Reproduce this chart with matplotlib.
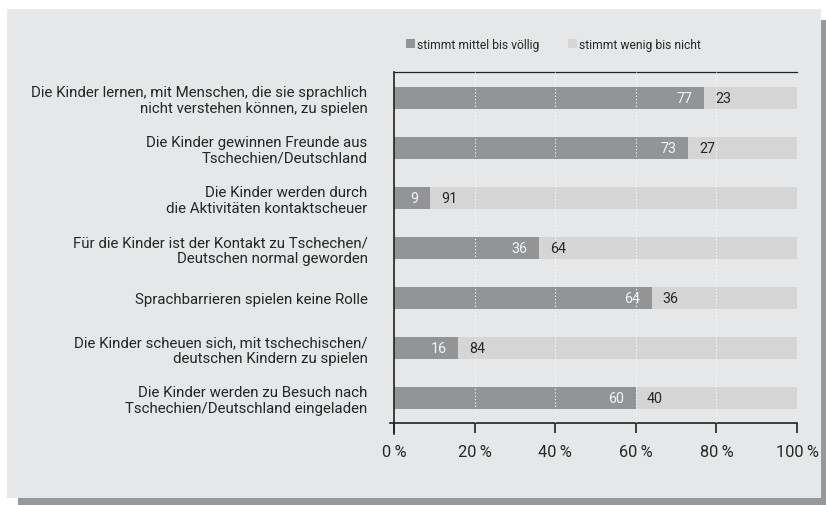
import matplotlib
matplotlib.use("Agg")
import matplotlib.pyplot as plt
from matplotlib.patches import Rectangle

# DATA
categories = [
    "Die Kinder lernen, mit Menschen, die sie sprachlich\nnicht verstehen können, zu spielen",
    "Die Kinder gewinnen Freunde aus\nTschechien/Deutschland",
    "Die Kinder werden durch\ndie Aktivitäten kontaktscheuer",
    "Für die Kinder ist der Kontakt zu Tschechen/\nDeutschen normal geworden",
    "Sprachbarrieren spielen keine Rolle",
    "Die Kinder scheuen sich, mit tschechischen/\ndeutschen Kindern zu spielen",
    "Die Kinder werden zu Besuch nach\nTschechien/Deutschland eingeladen",
]
stimmt_mittel = [77, 73, 9, 36, 64, 16, 60]
stimmt_wenig = [23, 27, 91, 64, 36, 84, 40]
series_names = ["stimmt mittel bis völlig", "stimmt wenig bis nicht"]
x_ticks = [0, 20, 40, 60, 80, 100]
x_ticklabels = ["0\u2009%", "20\u2009%", "40\u2009%", "60\u2009%", "80\u2009%", "100\u2009%"]

# STYLE
DARK = "#939496"
LIGHT = "#d5d5d6"
PANEL = "#e6e7e8"
SHADOW = "#97989a"
TEXT = "#262626"
W, H = 826, 506

plt.rcParams["font.family"] = ["Roboto", "DejaVu Sans"]

fig = plt.figure(figsize=(W / 100, H / 100), dpi=100)
fig.patch.set_facecolor("white")


def px_rect(x0, y0, x1, y1, color):
    # rectangle in pixel coords, origin top-left
    return Rectangle((x0 / W, 1 - y1 / H), (x1 - x0) / W, (y1 - y0) / H,
                     transform=fig.transFigure, facecolor=color,
                     edgecolor="none", zorder=-10)


fig.patches.append(px_rect(18, 21, 826, 506, SHADOW))
fig.patches.append(px_rect(7, 10, 821, 499, PANEL))

ax = fig.add_axes([394 / W, 1 - 424 / H, (797 - 394) / W, (424 - 73) / H])
ax.set_facecolor("none")

y = list(range(len(categories)))
ax.barh(y, stimmt_mittel, height=0.44, color=DARK, zorder=2, label=series_names[0])
ax.barh(y, stimmt_wenig, left=stimmt_mittel, height=0.44, color=LIGHT, zorder=2,
        label=series_names[1])

for i, (a, b) in enumerate(zip(stimmt_mittel, stimmt_wenig)):
    ax.text(a - 2.9, i, str(a), ha="right", va="center", color="#f4f4f4",
            fontsize=10.3, zorder=4)
    ax.text(a + 2.7, i, str(b), ha="left", va="center", color=TEXT,
            fontsize=10.3, zorder=4)

for gx in [20, 40, 60, 80]:
    ax.axvline(gx, color="white", lw=0.8, ls=(0, (1, 2)), zorder=3)

ax.set_xlim(0, 100)
ax.set_ylim(6.5, -0.52)
ax.set_yticks(y)
ax.set_yticklabels(categories, fontsize=10.8, color=TEXT, linespacing=1.12)
ax.tick_params(axis="y", length=0, pad=19)
ax.set_xticks(x_ticks)
ax.set_xticklabels(x_ticklabels, fontsize=11.8, color=TEXT)
ax.tick_params(axis="x", direction="out", length=7, width=1.2, color="#222222", pad=8)

for s in ["left", "bottom", "top"]:
    ax.spines[s].set_color("#222222")
    ax.spines[s].set_linewidth(1.2)
ax.spines["top"].set_linewidth(0.9)
ax.spines["right"].set_visible(False)

# axis lines overshoot a little at the bottom-left corner
ax.plot([0, 0], [0, -0.03], transform=ax.transAxes, color="#222222", lw=1.2, clip_on=False)
ax.plot([-0.01, 0], [0, 0], transform=ax.transAxes, color="#222222", lw=1.2, clip_on=False)

# legend
leg = fig.legend(loc="center left", bbox_to_anchor=(406 / W, 1 - 45 / H), ncol=2,
                 frameon=False, fontsize=8.7, handlelength=0.75, handleheight=0.75,
                 handletextpad=0.2, columnspacing=2.3, borderaxespad=0, borderpad=0)
for t in leg.get_texts():
    t.set_color(TEXT)

fig.savefig("out.png", dpi=100)
